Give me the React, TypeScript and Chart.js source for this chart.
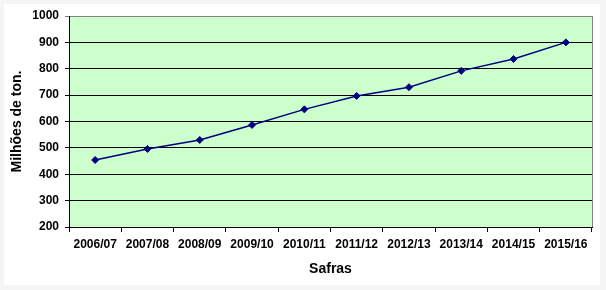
import React, { useEffect, useRef } from "react";
import { Chart, registerables } from "chart.js";

Chart.register(...registerables);

const categories = [
  "2006/07", "2007/08", "2008/09", "2009/10", "2010/11",
  "2011/12", "2012/13", "2013/14", "2014/15", "2015/16",
];
const production = [454, 496, 530, 587, 646, 697, 730, 792, 837, 900];
const yMin = 200;
const yMax = 1000;
const yStep = 100;
const yTitle = "Milhões de ton.";
const xTitle = "Safras";

const FONT = "'Liberation Sans', Arial, sans-serif";

const bgPlugin = {
  id: "bgPlugin",
  beforeDraw(chart: any) {
    const { ctx, chartArea: a, width, height } = chart;
    ctx.save();
    ctx.fillStyle = "#f5f5f5";
    ctx.fillRect(0, 0, width, height);
    ctx.fillStyle = "#ffffff";
    ctx.fillRect(4, 4, width - 10, height - 9);
    ctx.fillStyle = "#ccffcc";
    ctx.fillRect(a.left, a.top, a.right - a.left, a.bottom - a.top);
    ctx.restore();
  },
  beforeDatasetsDraw(chart: any) {
    const { ctx, chartArea: a } = chart;
    ctx.save();
    ctx.strokeStyle = "#808080";
    ctx.lineWidth = 1;
    const x = Math.round(a.right) + 0.5;
    ctx.beginPath();
    ctx.moveTo(x, Math.round(a.top));
    ctx.lineTo(x, Math.round(a.bottom));
    ctx.stroke();
    ctx.restore();
  },
};

export default function App() {
  const ref = useRef<HTMLCanvasElement | null>(null);

  useEffect(() => {
    document.body.style.margin = "0";
    if (!ref.current) return;
    const chart = new Chart(ref.current, {
      type: "line",
      data: {
        labels: categories,
        datasets: [
          {
            data: production,
            borderColor: "#000080",
            backgroundColor: "#000080",
            borderWidth: 1.5,
            pointStyle: "rectRot",
            pointRadius: 3.5,
            pointBorderWidth: 1,
            pointBackgroundColor: "#000080",
            pointBorderColor: "#000080",
            tension: 0,
          },
        ],
      },
      options: {
        animation: false,
        responsive: false,
        layout: { padding: { left: 0, top: 16, right: 14, bottom: 0 } },
        plugins: {
          legend: { display: false },
          tooltip: { enabled: false },
        },
        scales: {
          x: {
            type: "category",
            offset: true,
            afterFit(scale: any) {
              scale.height = 63;
            },
            grid: {
              offset: true,
              drawOnChartArea: false,
              drawTicks: true,
              tickLength: 5,
              color: "#000000",
              lineWidth: 1,
            },
            border: { display: true, color: "#000000", width: 1 },
            ticks: {
              color: "#000000",
              font: { family: FONT, size: 12, weight: "bold" },
              padding: 5,
              maxRotation: 0,
              autoSkip: false,
            },
            title: {
              display: true,
              text: xTitle,
              color: "#000000",
              font: { family: FONT, size: 14, weight: "bold" },
              padding: { top: 0, bottom: 12.5 },
            },
          },
          y: {
            min: yMin,
            max: yMax,
            afterFit(scale: any) {
              scale.width = 69;
            },
            ticks: {
              stepSize: yStep,
              color: "#000000",
              font: { family: FONT, size: 12, weight: "bold" },
              padding: 6,
              callback: (v: any) => String(v),
            },
            grid: {
              color: (c: any) => (c.tick && c.tick.value === yMax ? "#808080" : "#000000"),
              lineWidth: 1,
              drawTicks: true,
              tickLength: 4,
            },
            border: { display: true, color: "#000000", width: 1 },
            title: {
              display: true,
              text: yTitle,
              color: "#000000",
              font: { family: FONT, size: 14, weight: "bold" },
              padding: { top: 8.5, bottom: 0 },
            },
          },
        },
      },
      plugins: [bgPlugin],
    } as any);
    return () => chart.destroy();
  }, []);

  return (
    <div style={{ width: 606, height: 290 }}>
      <canvas ref={ref} width={606} height={290} style={{ width: 606, height: 290, display: "block" }} />
    </div>
  );
}
